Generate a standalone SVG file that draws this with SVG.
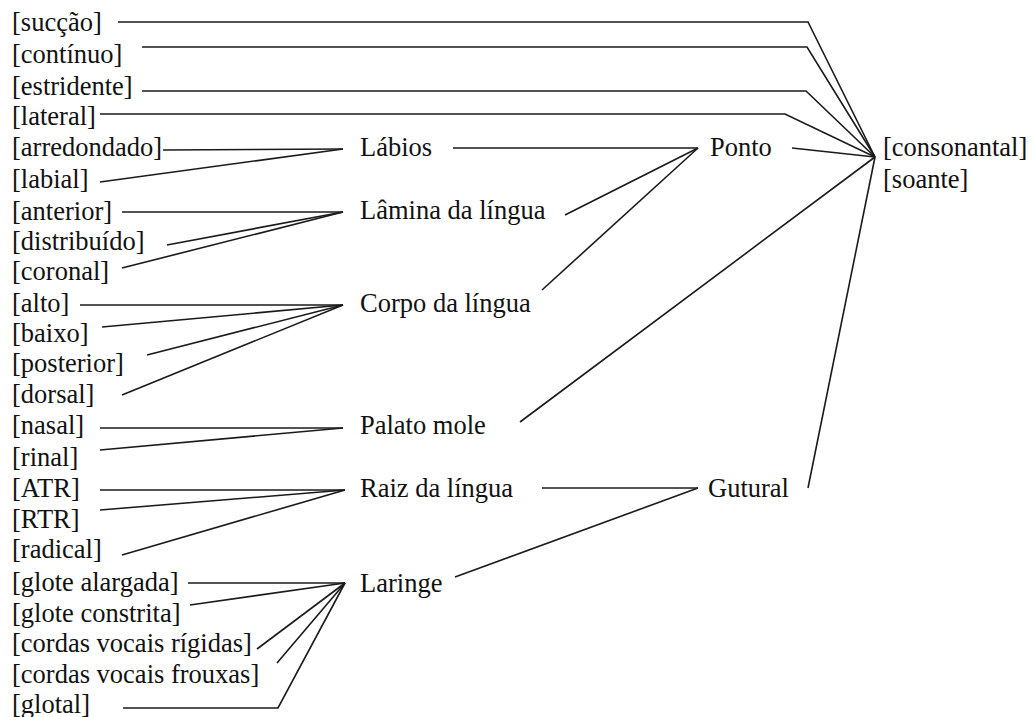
<svg xmlns="http://www.w3.org/2000/svg" width="1035" height="717" viewBox="0 0 1035 717">
<style>
text{font-family:"Liberation Serif","Times New Roman",serif;font-size:26.5px;fill:#111}
.c line,.c polyline{stroke:#1a1a1a;stroke-width:1.6;fill:none}
</style>
<rect width="1035" height="717" fill="#fff"/>
<g class="c" id="connectors">
<polyline points="118,22 808,22 875,157"/>
<polyline points="142,47 807,47 875,157"/>
<polyline points="142,91 806,91 875,157"/>
<polyline points="100,114 785,114 875,157"/>
<line x1="792" y1="148" x2="875" y2="157"/>
<line x1="520" y1="422" x2="875" y2="157"/>
<line x1="808" y1="488" x2="875" y2="157"/>
<line x1="453" y1="148" x2="698" y2="148"/>
<line x1="565" y1="215" x2="698" y2="148"/>
<line x1="542" y1="290" x2="698" y2="148"/>
<line x1="542" y1="488" x2="698" y2="488"/>
<line x1="455" y1="577" x2="698" y2="488"/>
<line x1="163" y1="150" x2="343" y2="149"/>
<line x1="100" y1="182" x2="343" y2="149"/>
<line x1="122" y1="212" x2="343" y2="212"/>
<line x1="167" y1="245" x2="343" y2="212"/>
<line x1="122" y1="268" x2="343" y2="212"/>
<line x1="80" y1="305" x2="343" y2="305"/>
<line x1="102" y1="327" x2="343" y2="305"/>
<line x1="147" y1="355" x2="343" y2="305"/>
<line x1="122" y1="395" x2="343" y2="305"/>
<line x1="100" y1="428" x2="343" y2="428"/>
<line x1="100" y1="450" x2="343" y2="428"/>
<line x1="100" y1="490" x2="345" y2="490"/>
<line x1="100" y1="510" x2="345" y2="490"/>
<line x1="122" y1="555" x2="345" y2="490"/>
<line x1="188" y1="583" x2="345" y2="583"/>
<line x1="190" y1="605" x2="345" y2="583"/>
<line x1="257" y1="649" x2="345" y2="583"/>
<line x1="277" y1="663" x2="345" y2="583"/>
<polyline points="123,708 278,708 345,583"/>
</g>
<g id="features">
<text x="12" y="31">[sucção]</text>
<text x="12" y="63">[contínuo]</text>
<text x="12" y="95">[estridente]</text>
<text x="12" y="125">[lateral]</text>
<text x="12" y="156">[arredondado]</text>
<text x="12" y="188">[labial]</text>
<text x="12" y="220">[anterior]</text>
<text x="12" y="250">[distribuído]</text>
<text x="12" y="280">[coronal]</text>
<text x="12" y="312">[alto]</text>
<text x="12" y="342">[baixo]</text>
<text x="12" y="372">[posterior]</text>
<text x="12" y="403">[dorsal]</text>
<text x="12" y="434">[nasal]</text>
<text x="12" y="466">[rinal]</text>
<text x="12" y="497">[ATR]</text>
<text x="12" y="528">[RTR]</text>
<text x="12" y="558">[radical]</text>
<text x="12" y="591">[glote alargada]</text>
<text x="12" y="622">[glote constrita]</text>
<text x="12" y="652">[cordas vocais rígidas]</text>
<text x="12" y="683">[cordas vocais frouxas]</text>
<text x="12" y="713">[glotal]</text>
</g>
<g id="labios"><text x="360" y="156">Lábios</text></g>
<g id="lamina"><text x="360" y="219">Lâmina da língua</text></g>
<g id="corpo"><text x="360" y="312">Corpo da língua</text></g>
<g id="palato"><text x="360" y="434">Palato mole</text></g>
<g id="raiz"><text x="360" y="497">Raiz da língua</text></g>
<g id="laringe"><text x="360" y="592">Laringe</text></g>
<g id="ponto"><text x="710" y="156">Ponto</text></g>
<g id="gutural"><text x="708" y="497">Gutural</text></g>
<g id="root"><text x="883" y="156">[consonantal]</text><text x="883" y="188">[soante]</text></g>
</svg>
